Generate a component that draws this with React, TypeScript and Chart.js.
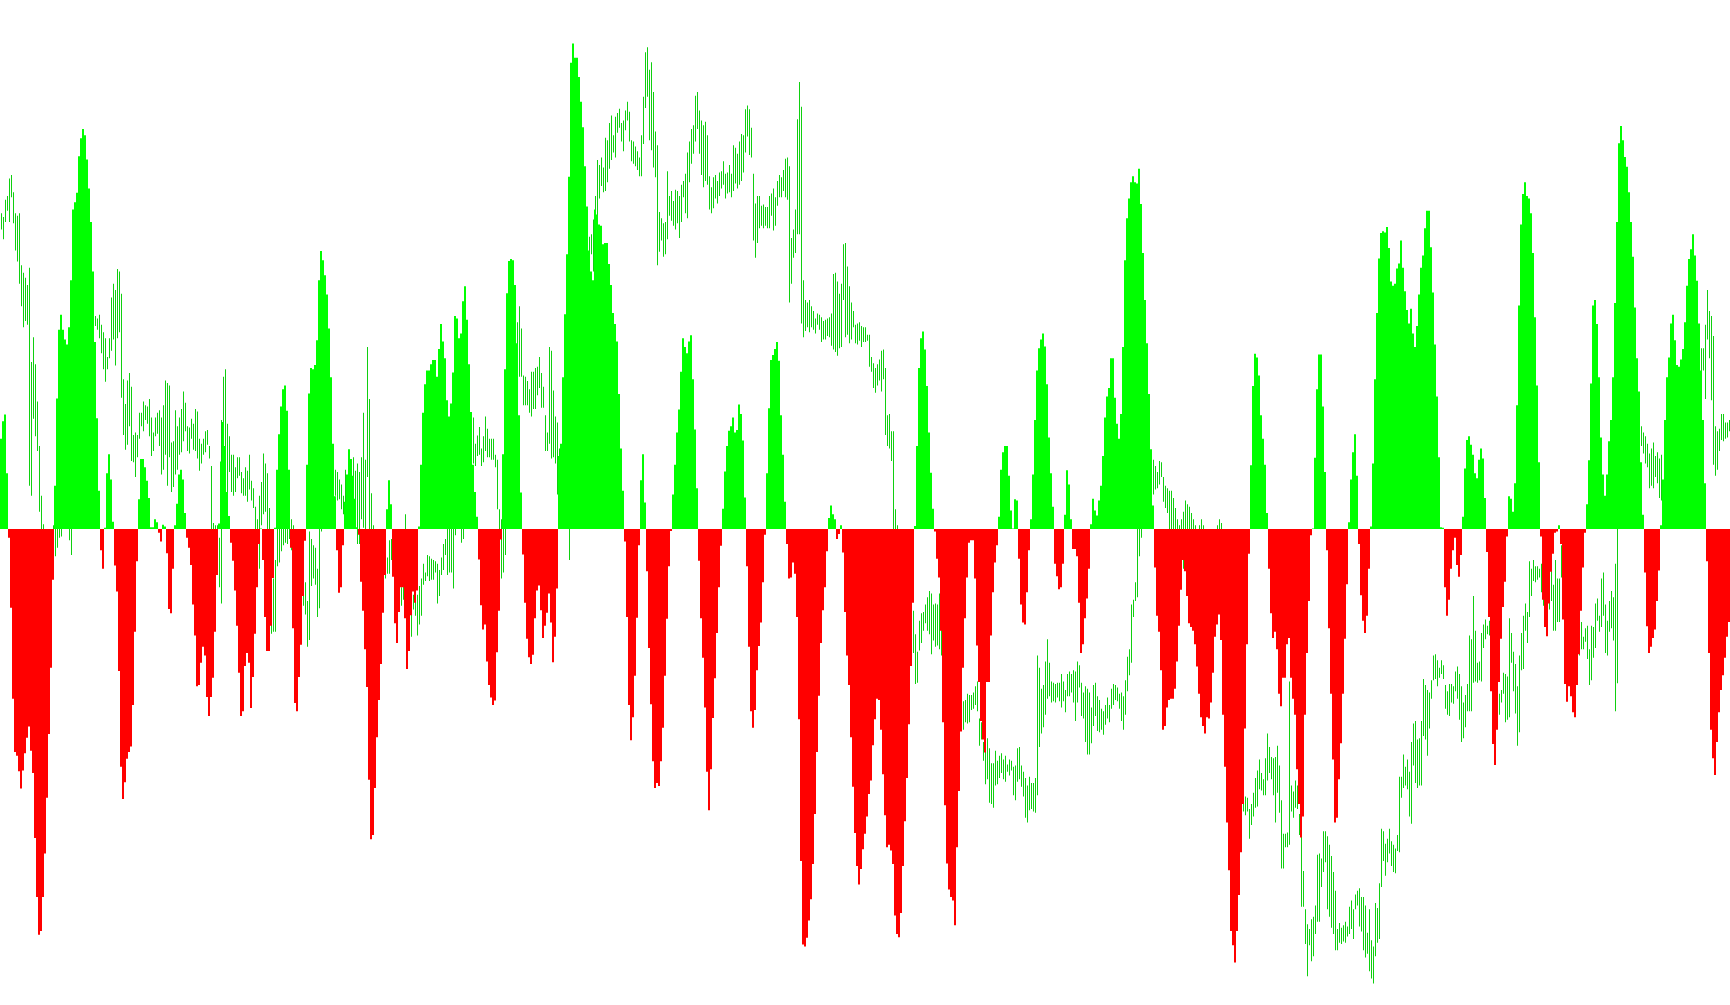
import { useEffect, useRef } from "react";
import { Chart, registerables } from "chart.js";

Chart.register(...registerables);

// Oscillator histogram (positive = green, negative = red), one value per bar
const hist = [
  146,174,185,90,-14,-127,-274,-360,-366,-391,
  -419,-390,-362,-337,-319,-358,-394,-499,-594,-655,
  -649,-594,-524,-434,-331,-224,-82,70,211,322,
  346,322,306,298,326,402,516,528,543,602,
  631,646,636,597,550,496,416,302,179,62,
  -34,-64,2,90,121,80,12,-59,-101,-229,
  -384,-436,-409,-371,-360,-351,-284,-166,-52,48,
  113,113,100,78,50,3,3,16,11,-6,
  -20,7,4,-39,-129,-136,-64,6,41,88,
  96,80,26,-14,-30,-58,-122,-172,-254,-252,
  -216,-190,-204,-271,-302,-271,-240,-166,-74,9,
  109,173,134,60,21,-22,-51,-99,-156,-232,
  -302,-294,-221,-200,-216,-289,-239,-169,-94,-24,
  1,-50,-142,-197,-197,-156,-79,2,96,153,
  198,226,232,191,96,
  -30,-160,-281,-294,-239,-187,-108,-19,104,219,
  260,258,265,305,402,449,434,410,379,324,
  245,138,53,-34,-103,-94,-26,44,88,129,
  113,86,49,3,-9,-85,-132,-194,-255,-405,
  -501,-494,-418,-336,-276,-218,-135,-74,32,79,
  40,-77,-152,-184,-134,-94,-94,-144,-226,-197,
  -139,-101,-119,-99,4,104,188,234,256,256,
  266,273,273,246,291,331,303,276,208,182,
  203,253,344,340,308,316,368,392,338,266,
  189,104,60,20,-49,-123,-162,-154,-214,-252,
  -272,-284,-277,-199,-132,-17,121,258,381,433,
  436,434,394,300,184,59,-41,-119,-177,-207,
  -218,-203,-144,-99,-91,-131,-176,-156,-135,-104,
  -151,-215,-174,-96,118,138,245,347,444,569,
  753,784,761,761,730,
  690,649,586,521,450,416,402,516,508,492,
  490,460,462,462,428,394,349,331,303,218,
  130,62,-20,-142,-284,-341,-304,-237,-143,-26,
  79,121,43,-68,-192,-283,-375,-418,-410,-415,
  -375,-321,-237,-145,-60,-3,56,104,156,193,
  254,308,294,284,303,313,242,161,66,-51,
  -144,-208,-288,-392,-454,-388,-305,-241,-168,-94,
  -27,33,93,134,159,166,180,156,160,201,
  186,143,51,-60,-190,-294,-321,-292,-228,-189,
  -151,-86,-9,90,195,273,281,291,302,272,
  184,120,44,-24,-80,-78,-54,-72,-142,-307,
  -536,-671,-674,-660,-632,-598,-541,-460,-360,-269,
  -184,-131,-94,-36,18,38,24,16,-16,-8,
  6,-38,-134,-204,-252,-336,-416,-491,-544,-574,
  -549,-517,-492,-464,-428,
  -406,-349,-307,-274,-276,-324,-396,-462,-514,-510,
  -519,-541,-624,-654,-659,-620,-544,-472,-402,-315,
  -221,-119,5,134,260,308,319,290,231,156,
  91,33,-4,-48,-78,-164,-312,-446,-540,-582,
  -594,-600,-640,-514,-423,-327,-224,-144,-78,-22,
  -18,-18,-80,-188,-247,-310,-340,-361,-247,-247,
  -172,-102,-54,-26,20,96,124,134,134,86,
  30,1,48,46,-48,-122,-151,-154,-102,-34,
  16,88,176,256,292,306,316,295,234,148,
  90,36,-56,-76,-97,-94,-56,23,95,72,
  16,-32,-32,-44,-119,-200,-186,-144,-112,-64,
  8,49,30,22,46,70,118,180,214,228,
  276,276,212,170,146,186,294,434,502,534,
  560,570,560,558,582,525,446,370,300,218,
  129,38,-62,-140,-166,
  -228,-324,-318,-288,-276,-274,-274,-258,-214,-156,
  -98,-50,-68,-108,-152,-158,-164,-186,-222,-266,
  -304,-318,-330,-304,-306,-280,-232,-174,-154,-138,
  -179,-300,-384,-474,-551,-649,-672,-700,-649,-591,
  -522,-444,-322,-186,-40,103,231,283,277,248,
  184,146,104,26,-64,-136,-176,-166,-194,-266,
  -286,-240,-240,-186,-176,-240,-274,-300,-388,-444,
  -498,-464,-300,-200,-116,-10,1,115,226,282,
  282,198,92,-34,-160,-266,-372,-474,-466,-404,
  -346,-266,-177,-89,11,80,124,153,86,-24,
  -107,-148,-168,-140,-64,4,106,242,349,437,
  478,481,479,488,454,400,393,396,421,429,
  466,422,384,354,332,356,316,294,328,379,
  422,442,486,514,514,455,382,298,214,116,
  3,2,-94,-140,-114,
  -64,-34,-14,-58,-77,-42,20,98,144,150,
  136,120,90,82,112,130,114,50,-37,-142,
  -262,-347,-381,-324,-247,-177,-126,-85,-12,53,
  49,28,74,200,361,492,541,560,538,534,
  510,446,342,232,108,-12,-114,-158,-173,-120,
  -69,-40,-6,-4,6,-24,-146,-250,-279,-254,
  -270,-296,-304,-252,-202,-132,-62,-6,40,111,
  235,361,370,331,245,148,88,54,88,142,
  176,245,365,496,623,651,628,601,585,544,
  496,440,358,276,222,108,23,-70,-157,-200,
  -190,-176,-162,-116,-67,6,80,176,245,277,
  332,346,305,265,262,274,291,334,393,436,
  452,476,442,401,332,256,176,74,-52,-200,
  -324,-370,-397,-344,-296,-260,-236,-208,-174,-150,
];

// Price bars: high of each bar
const priceHigh = [
  1304,1298,1326,1332,1360,1366,1338,1304,1300,1304,
  1220,1208,1200,1188,1216,1064,1104,1060,1000,928,
  848,802,780,760,770,790,800,810,820,840,
  830,830,840,850,840,830,900,950,1000,1040,
  1080,1100,1120,1130,1130,1140,1140,1138,1134,1140,
  1124,1112,1102,1072,1102,1168,1190,1180,1214,1210,
  1174,1036,996,1034,1046,1024,946,950,946,982,
  982,1000,994,992,1004,974,950,974,982,986,
  974,994,1034,1030,1026,934,936,986,960,974,
  988,1016,998,960,958,972,964,988,984,940,
  932,940,952,954,928,896,804,800,800,780,
  970,1040,1052,964,944,914,914,894,910,910,
  886,876,894,888,914,872,860,830,810,848,
  870,916,900,884,828,780,714,744,810,820,
  830,820,810,805,810,
  810,800,790,770,750,730,730,708,678,790,
  778,768,764,730,840,860,900,920,920,910,
  900,900,890,886,874,866,848,890,880,910,
  900,910,888,900,886,910,982,906,1088,1004,
  852,800,780,770,760,750,750,746,748,776,
  778,760,750,740,720,700,705,818,750,740,
  670,688,690,688,702,714,738,724,752,750,
  746,744,742,738,728,748,770,778,820,830,
  840,840,860,880,880,860,850,880,910,940,
  960,974,932,945,959,924,944,976,956,940,
  940,940,914,906,826,810,810,840,900,960,
  1020,1080,1120,1128,1154,1118,1042,1040,1033,1020,
  1048,1048,1054,1056,1072,1046,1024,978,950,1088,
  1082,1018,976,966,924,920,1000,1040,1120,1040,
  1220,1270,1300,1320,1340,
  1320,1300,1280,1270,1266,1270,1294,1332,1390,1382,
  1394,1378,1426,1422,1450,1462,1430,1460,1466,1473,
  1450,1454,1470,1484,1468,1422,1420,1412,1404,1394,
  1430,1492,1564,1572,1536,1548,1500,1436,1414,1306,
  1296,1288,1290,1372,1332,1340,1324,1342,1340,1332,
  1350,1356,1368,1402,1420,1440,1446,1494,1500,1470,
  1454,1446,1452,1430,1364,1346,1362,1366,1356,1370,
  1372,1388,1368,1370,1382,1368,1414,1410,1400,1420,
  1432,1430,1472,1478,1472,1442,1368,1320,1332,1332,
  1316,1318,1314,1314,1332,1336,1344,1330,1356,1366,
  1362,1374,1392,1394,1380,1264,1278,1310,1456,1516,
  1476,1196,1164,1160,1164,1154,1146,1134,1142,1140,
  1136,1130,1132,1134,1136,1142,1206,1208,1194,1174,
  1190,1254,1256,1218,1186,1160,1146,1124,1126,1128,
  1122,1120,1120,1108,1108,
  1072,1062,1054,1060,1068,1082,1084,1054,978,980,
  952,952,826,800,770,750,730,720,700,680,
  670,662,624,596,646,658,660,672,684,694,
  690,672,674,672,690,670,650,640,620,600,
  580,560,550,540,530,530,516,518,528,526,
  526,530,540,548,488,482,450,442,456,440,
  416,416,436,420,428,432,422,428,414,422,
  420,410,412,440,442,412,402,392,380,394,
  384,384,392,590,570,536,542,580,616,578,
  548,546,544,546,546,560,548,534,560,564,
  560,566,564,580,574,546,530,540,536,530,
  506,542,546,524,518,504,500,510,522,510,
  536,544,542,538,528,530,524,550,588,600,
  672,680,708,820,840,860,880,900,910,910,
  910,906,896,886,904,
  902,878,864,860,856,856,844,828,810,800,
  810,822,840,834,830,820,810,800,790,800,
  810,800,790,780,780,770,780,790,800,810,
  804,750,700,650,600,550,500,450,420,400,
  380,360,362,360,342,350,368,392,404,422,
  400,390,424,464,442,426,424,426,444,412,
  356,302,302,304,548,380,370,388,380,334,
  300,242,180,156,148,164,168,186,268,270,
  262,306,306,298,284,266,240,210,148,158,
  150,154,160,152,184,194,180,204,210,214,
  200,200,186,142,180,130,120,190,182,222,
  310,306,286,294,310,290,284,278,300,394,
  394,430,410,422,402,450,480,484,454,456,
  484,552,542,534,530,550,590,592,582,570,
  582,574,542,532,544,
  544,540,564,572,560,540,514,526,544,622,
  616,686,630,578,580,626,640,648,638,646,
  640,620,600,560,528,534,562,560,556,650,
  626,596,576,540,590,626,654,674,660,742,
  730,744,734,734,730,738,720,700,682,678,
  778,704,744,714,714,768,750,700,680,670,
  660,650,640,630,650,644,620,634,638,600,
  638,636,674,682,654,714,724,672,646,678,
  694,684,738,850,900,950,980,1000,1000,990,
  980,970,970,960,960,960,950,944,932,916,
  924,934,912,918,908,914,870,920,980,1020,
  1040,1060,1070,1040,1040,1050,1070,1100,1120,1120,
  1110,1110,1100,1100,1090,1086,1086,1124,1180,1146,
  1138,1106,960,952,956,980,980,966,966,970,
];

// Price bars: low of each bar
const priceLow = [
  1278,1262,1290,1308,1290,1330,1288,1244,1226,1190,
  1154,1120,1130,1124,864,848,972,944,920,822,
  770,740,720,700,710,730,750,750,764,780,
  782,795,800,800,776,752,810,860,900,950,
  1000,1020,1040,1060,1080,1100,1110,1122,1116,1102,
  1078,1052,1032,1052,1070,1082,1100,1058,1102,1112,
  1006,946,922,930,960,904,902,878,910,940,
  960,952,970,964,944,912,920,944,948,928,
  882,890,914,864,910,854,862,882,890,914,
  918,936,952,920,916,940,922,920,908,888,
  900,914,918,930,908,780,760,730,720,700,
  674,884,860,854,886,854,848,854,876,880,
  852,848,848,838,858,840,828,780,760,730,
  800,818,822,770,740,625,628,628,734,740,
  758,768,772,770,778,
  760,750,720,700,670,660,670,656,604,615,
  702,714,704,652,666,790,810,840,850,850,
  840,840,848,840,842,826,818,824,830,850,
  830,810,800,770,770,810,796,760,878,750,
  730,700,680,660,650,640,660,714,722,722,
  744,720,700,680,670,670,680,700,680,670,
  620,664,654,622,640,654,704,710,718,710,
  712,712,724,674,686,720,728,752,720,724,
  724,698,784,800,810,772,778,800,820,860,
  890,900,896,912,914,896,902,920,910,910,
  906,906,894,826,770,714,724,752,800,840,
  900,960,1040,1080,1040,1040,994,994,994,982,
  976,988,988,1010,1022,990,990,920,920,932,
  908,910,900,850,820,820,880,920,960,744,
  1040,1130,1180,1200,1220,
  1240,1230,1220,1230,1240,1238,1210,1242,1300,1328,
  1348,1338,1340,1354,1376,1390,1402,1394,1434,1442,
  1420,1404,1438,1454,1420,1388,1384,1380,1374,1364,
  1364,1416,1474,1492,1422,1406,1378,1362,1220,1242,
  1260,1234,1238,1262,1300,1292,1284,1278,1288,1264,
  1290,1330,1304,1296,1354,1384,1400,1420,1440,1400,
  1366,1346,1356,1350,1310,1304,1312,1328,1320,1332,
  1344,1350,1328,1336,1338,1330,1340,1352,1344,1350,
  1356,1370,1402,1428,1398,1394,1260,1232,1256,1280,
  1284,1280,1284,1280,1280,1300,1276,1284,1316,1330,
  1330,1340,1330,1326,1160,1190,1232,1240,1270,1270,
  1126,1104,1114,1120,1112,1120,1116,1110,1124,1116,
  1096,1100,1100,1106,1104,1090,1084,1080,1074,1086,
  1088,1164,1104,1108,1094,1100,1120,1094,1092,1098,
  1088,1096,1096,1098,1056,
  1048,1022,1014,1026,1034,1016,1036,946,928,924,
  904,770,740,700,670,650,620,610,600,580,
  590,594,544,546,598,610,630,642,630,624,
  592,614,604,606,600,590,570,560,540,530,
  520,510,500,490,490,480,470,482,480,482,
  502,504,510,500,444,454,420,382,390,352,
  350,344,380,382,392,400,390,386,402,396,
  404,364,356,386,390,378,362,328,320,340,
  342,338,336,364,442,464,474,494,520,524,
  514,516,514,522,516,506,516,498,524,524,
  530,514,484,514,538,492,488,450,430,430,
  448,476,492,468,466,470,462,478,488,482,
  504,510,518,516,504,484,470,494,532,558,
  578,652,678,684,750,780,800,820,840,850,
  850,850,858,860,866,
  878,838,828,820,770,760,750,730,720,710,
  720,730,760,750,740,730,720,710,700,710,
  720,700,680,670,660,650,660,670,680,670,
  640,600,540,480,440,400,360,340,330,320,
  310,338,332,338,294,316,330,344,346,374,
  372,364,364,388,400,390,364,320,368,336,
  246,246,280,280,284,338,328,344,342,300,
  184,184,124,72,122,96,104,140,160,160,
  216,240,256,180,168,150,140,114,114,126,
  124,128,126,136,140,148,132,180,186,152,
  144,114,102,108,80,68,60,104,126,132,
  216,258,234,256,270,250,240,238,274,272,
  360,376,380,374,330,318,412,384,376,380,
  380,460,454,428,472,520,550,552,540,554,
  560,552,504,494,492,
  514,512,532,520,486,450,456,474,500,500,
  500,546,548,546,550,548,602,616,624,622,
  590,560,540,510,494,514,528,482,486,490,
  578,532,496,444,466,566,568,630,610,652,
  686,710,708,712,716,692,670,650,640,664,
  678,630,630,644,644,716,670,620,600,590,
  580,570,560,560,590,600,600,612,584,542,
  550,586,602,646,628,636,654,594,590,628,
  634,614,500,545,800,840,880,900,910,910,
  900,900,910,910,920,928,916,900,894,860,
  864,860,878,868,844,840,810,840,880,900,
  920,940,960,960,970,980,1000,1020,1050,1050,
  1040,1030,1030,1020,1020,1024,1050,1004,1100,1070,
  1002,898,880,890,920,938,936,940,942,952,
];

const HIST_MIN = -768.6;
const HIST_MAX = 854.45;
const PRICE_MIN = 25.4;
const PRICE_MAX = 1648.45;

const UP = "#00ff00";
const DOWN = "#ff0000";
const PRICE_COLOR = "rgb(16, 208, 16)";

export default function App() {
  const ref = useRef<HTMLCanvasElement | null>(null);

  useEffect(() => {
    const canvas = ref.current;
    if (!canvas) return;
    const n = hist.length;
    const chart = new Chart(canvas, {
      type: "bar",
      data: {
        datasets: [
          {
            label: "Histogram",
            data: hist.map((v, i) => ({ x: i, y: v })),
            xAxisID: "x",
            yAxisID: "y",
            backgroundColor: hist.map((v) => (v >= 0 ? UP : DOWN)),
            borderWidth: 0,
            barThickness: 2,
            maxBarThickness: 2,
            grouped: false,
            inflateAmount: 0,
          } as any,
          {
            label: "Price",
            data: priceLow.map((l, i) => ({ x: i, y: [l, priceHigh[i]] })),
            xAxisID: "x2",
            yAxisID: "y2",
            backgroundColor: PRICE_COLOR,
            borderWidth: 0,
            barThickness: 1,
            maxBarThickness: 1,
            grouped: false,
            inflateAmount: 0,
          } as any,
        ],
      },
      options: {
        responsive: false,
        animation: false,
        devicePixelRatio: 1,
        events: [],
        layout: { padding: 0 },
        plugins: {
          legend: { display: false },
          title: { display: false },
          tooltip: { enabled: false },
        },
        scales: {
          x: { type: "linear", min: -0.5, max: n - 0.5, offset: false, display: false },
          x2: { type: "linear", min: -0.75, max: n - 0.75, offset: false, display: false },
          y: { type: "linear", min: HIST_MIN, max: HIST_MAX, display: false },
          y2: { type: "linear", min: PRICE_MIN, max: PRICE_MAX, display: false },
        },
      } as any,
    });
    return () => chart.destroy();
  }, []);

  return (
    <div style={{ position: "fixed", left: 0, top: 0, width: 1730, height: 1005, background: "#ffffff" }}>
      <canvas ref={ref} width={1730} height={1005} style={{ display: "block", width: 1730, height: 1005 }} />
    </div>
  );
}
